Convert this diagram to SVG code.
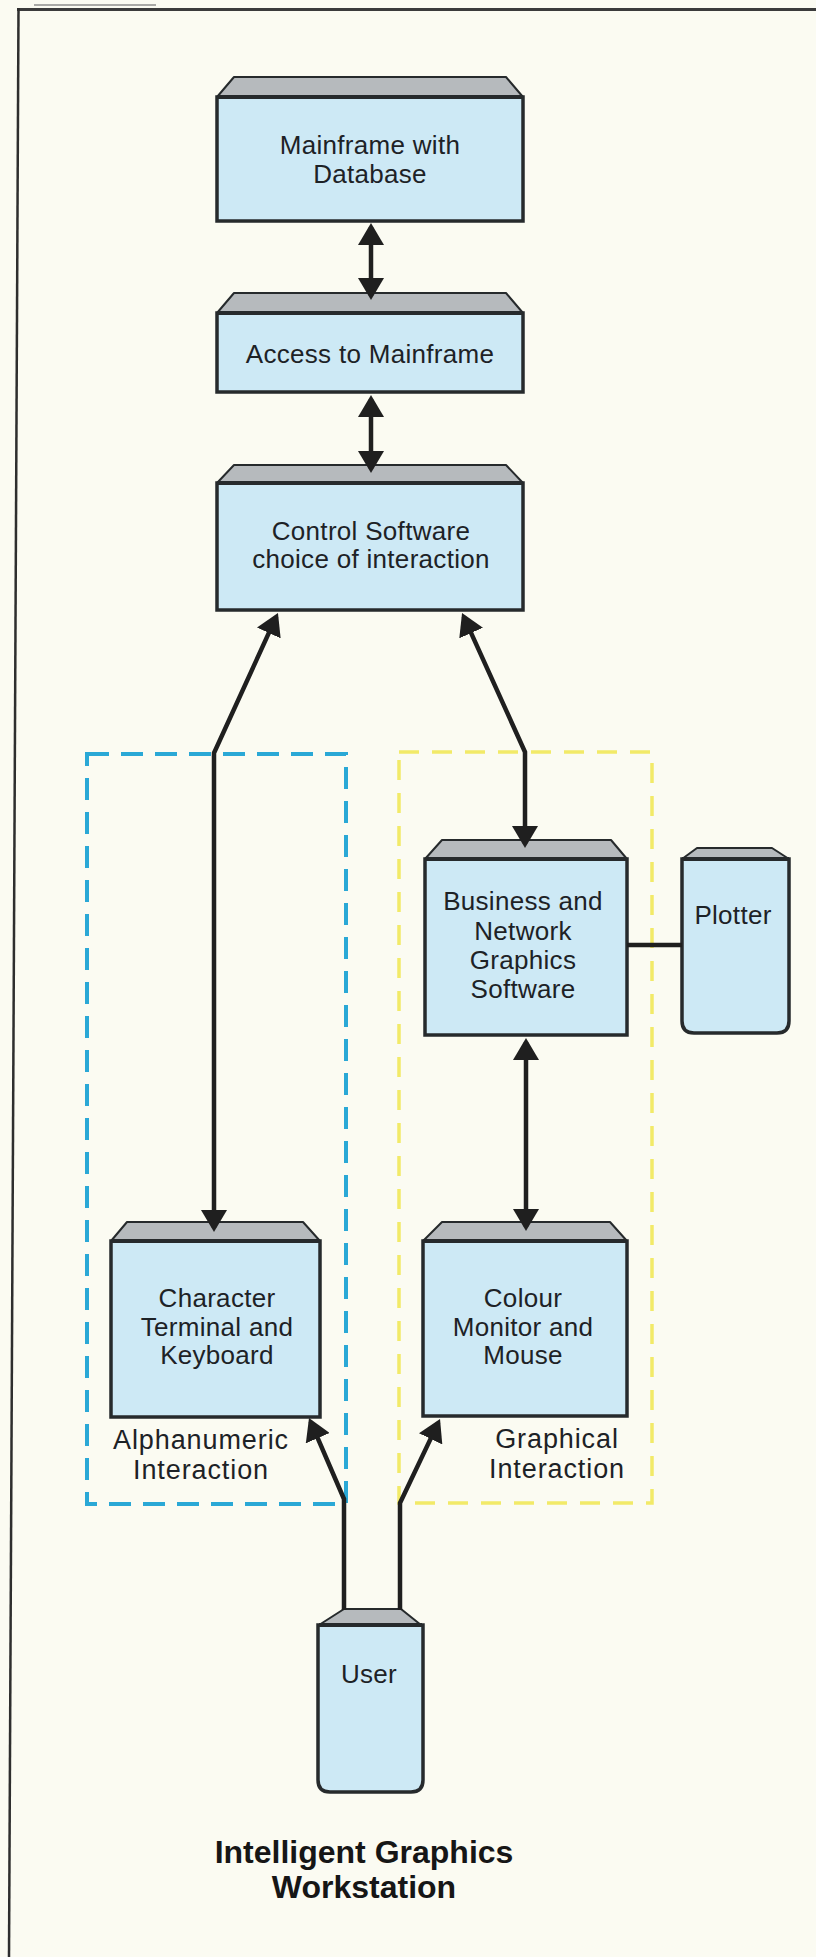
<svg xmlns="http://www.w3.org/2000/svg" width="816" height="1957" viewBox="0 0 816 1957">
  <defs>
    <style>
      .body { fill: #cde9f5; stroke: #262a2c; stroke-width: 3.5; }
      .bevel { fill: #b6babd; stroke: #262a2c; stroke-width: 2; stroke-linejoin: round; }
      .lid { stroke: #262a2c; stroke-width: 4; }
      .txt { font-family: "Liberation Sans", Arial, Helvetica, sans-serif; font-size: 26px; fill: #1d2226; text-anchor: middle; letter-spacing: 0.3px; }
      .grp { font-family: "Liberation Sans", Arial, Helvetica, sans-serif; font-size: 27px; fill: #1d2226; text-anchor: middle; letter-spacing: 0.9px; }
      .title { font-family: "Liberation Sans", Arial, Helvetica, sans-serif; font-size: 32px; font-weight: bold; fill: #161616; text-anchor: middle; }
      .conn { fill: none; stroke: #1f1f1f; stroke-width: 4.5; stroke-linejoin: miter; }
      .arrow { marker-end: url(#ah); }
      .both { marker-start: url(#ah); marker-end: url(#ah); }
    </style>
    <marker id="ah" viewBox="0 0 22 26" refX="18" refY="13" markerWidth="22" markerHeight="26" markerUnits="userSpaceOnUse" orient="auto-start-reverse">
      <path d="M0,0 L22,13 L0,26 Z" fill="#1f1f1f"/>
    </marker>
  </defs>

  <!-- paper -->
  <rect x="0" y="0" width="816" height="1957" fill="#fbfbf2"/>

  <!-- page frame -->
  <g id="frame">
    <line x1="34" y1="5" x2="156" y2="5" stroke="#a9a9a6" stroke-width="2"/>
    <line x1="17" y1="9.5" x2="816" y2="9.5" stroke="#3b3b3b" stroke-width="3"/>
    <line x1="18.5" y1="8" x2="9" y2="1957" stroke="#2e2e2e" stroke-width="2.5"/>
  </g>

  <!-- interaction groupings -->
  <g id="alphanumeric-group">
    <rect x="87" y="754" width="259" height="750" fill="none" stroke="#2aa8d6" stroke-width="4" stroke-dasharray="22 12"/>
    <text class="grp" x="201" y="1449">Alphanumeric</text>
    <text class="grp" x="201" y="1479">Interaction</text>
  </g>
  <g id="graphical-group">
    <rect x="399" y="752" width="253" height="751" fill="none" stroke="#f2ea68" stroke-width="3.5" stroke-dasharray="20 13"/>
    <text class="grp" x="557" y="1448">Graphical</text>
    <text class="grp" x="557" y="1478">Interaction</text>
  </g>

  <!-- nodes -->
  <g id="mainframe">
    <polygon class="bevel" points="234,77 506,77 523,97 217,97"/>
    <rect class="body" x="217" y="97" width="306" height="124"/>
    <line class="lid" x1="217" y1="97" x2="523" y2="97"/>
    <text class="txt" x="370" y="154">Mainframe with</text>
    <text class="txt" x="370" y="183">Database</text>
  </g>

  <g id="access">
    <polygon class="bevel" points="234,293 506,293 523,313 217,313"/>
    <rect class="body" x="217" y="313" width="306" height="79"/>
    <line class="lid" x1="217" y1="313" x2="523" y2="313"/>
    <text class="txt" x="370" y="363">Access to Mainframe</text>
  </g>

  <g id="control">
    <polygon class="bevel" points="234,465 506,465 523,483 217,483"/>
    <rect class="body" x="217" y="483" width="306" height="127"/>
    <line class="lid" x1="217" y1="483" x2="523" y2="483"/>
    <text class="txt" x="371" y="540">Control Software</text>
    <text class="txt" x="371" y="568">choice of interaction</text>
  </g>

  <g id="business">
    <polygon class="bevel" points="442,840 611,840 627,859 425,859"/>
    <rect class="body" x="425" y="859" width="202" height="176"/>
    <line class="lid" x1="425" y1="859" x2="627" y2="859"/>
    <text class="txt" x="523" y="910">Business and</text>
    <text class="txt" x="523" y="939.5">Network</text>
    <text class="txt" x="523" y="969">Graphics</text>
    <text class="txt" x="523" y="998">Software</text>
  </g>

  <g id="plotter">
    <polygon class="bevel" points="697,848 772,848 789,859 682,859"/>
    <path class="body" stroke-width="2.5" d="M682,859 H789 V1021 Q789,1033 777,1033 H694 Q682,1033 682,1021 Z"/>
    <line class="lid" x1="682" y1="859" x2="789" y2="859" stroke-width="3"/>
    <text class="txt" x="733" y="924">Plotter</text>
  </g>

  <g id="character">
    <polygon class="bevel" points="127,1222 303,1222 320,1241 111,1241"/>
    <rect class="body" x="111" y="1241" width="209" height="176"/>
    <line class="lid" x1="111" y1="1241" x2="320" y2="1241"/>
    <text class="txt" x="217" y="1307">Character</text>
    <text class="txt" x="217" y="1336">Terminal and</text>
    <text class="txt" x="217" y="1364">Keyboard</text>
  </g>

  <g id="colour">
    <polygon class="bevel" points="442,1222 610,1222 627,1241 423,1241"/>
    <rect class="body" x="423" y="1241" width="204" height="175"/>
    <line class="lid" x1="423" y1="1241" x2="627" y2="1241"/>
    <text class="txt" x="523" y="1307">Colour</text>
    <text class="txt" x="523" y="1336">Monitor and</text>
    <text class="txt" x="523" y="1364">Mouse</text>
  </g>

  <g id="user">
    <polygon class="bevel" points="344,1609 401,1609 421,1625 319,1625"/>
    <path class="body" stroke-width="2.5" d="M318,1625 H423 V1780 Q423,1792 411,1792 H330 Q318,1792 318,1780 Z"/>
    <line class="lid" x1="319" y1="1625" x2="422" y2="1625" stroke-width="3"/>
    <text class="txt" x="369" y="1683">User</text>
  </g>

  <!-- connectors -->
  <g id="connectors">
    <line class="conn both" x1="371" y1="227" x2="371" y2="296"/>
    <line class="conn both" x1="371" y1="399" x2="371" y2="469"/>
    <polyline class="conn both" points="276.3,616.6 214,753 214,1228"/>
    <polyline class="conn both" points="463.7,616.6 525,752 525,844"/>
    <line class="conn both" x1="526" y1="1042" x2="526" y2="1227"/>
    <line class="conn" x1="627" y1="945" x2="682" y2="945" stroke-width="5"/>
    <polyline class="conn arrow" points="344,1610 344,1499 310.6,1421.7"/>
    <polyline class="conn arrow" points="400,1610 400,1503 438.3,1422.6"/>
  </g>

  <!-- caption -->
  <g id="caption">
    <text class="title" x="364" y="1863">Intelligent Graphics</text>
    <text class="title" x="364" y="1898">Workstation</text>
  </g>
</svg>
